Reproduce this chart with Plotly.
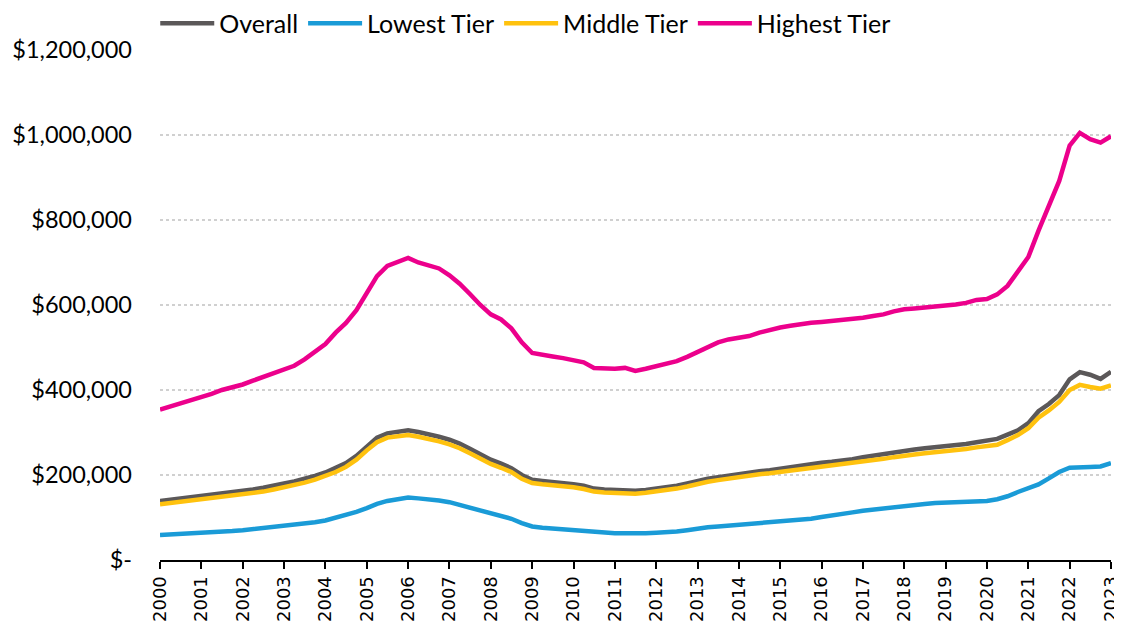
import plotly.graph_objects as go

# quarterly observations, 2000 Q1 .. 2023 Q1 (values in $ thousands)
dates = [f"{y}-{m:02d}-01" for y in range(2000, 2023) for m in (1, 4, 7, 10)] + ["2023-01-01"]

overall = [
    139, 142, 145, 148, 151, 154, 156, 158, 162, 166, 170, 174,
    180, 185, 191, 198, 206, 216, 228, 245, 268, 288, 298, 302,
    305, 301, 296, 290, 283, 274, 262, 248, 236, 227, 216, 200,
    189, 186, 184, 181, 178, 175, 168, 166, 165, 165, 163, 165,
    168, 171, 175, 180, 186, 191, 195, 199, 203, 206, 209, 211,
    215, 218, 222, 226, 229, 231, 233, 237, 242, 246, 249, 253,
    257, 260, 263, 265, 267, 270, 273, 277, 280, 285, 295, 305,
    322, 350, 367, 388, 425, 442, 436, 426, 443,
]
lowest = [
    59, 60, 61, 62, 63, 64.5, 66, 68, 70, 72.5, 75, 77.5,
    80, 82, 85, 89, 93, 99, 105, 113, 122, 132, 139, 144,
    147, 145, 143, 140, 136, 130, 124, 117, 110, 104, 97, 87,
    79, 76, 74, 72, 70, 68, 65, 64, 63, 63, 62, 63,
    64, 65, 67, 70, 74, 77, 79, 81, 83, 85, 86, 87,
    89, 91, 94, 97, 101, 104, 108, 112, 116, 119, 122, 125,
    128, 130, 132, 134, 135, 136, 137, 138, 139, 143, 150, 160,
    168, 178, 192, 207, 217, 219, 219, 220, 228,
]
middle = [
    131, 134, 137, 140, 143, 145, 148, 150, 153, 157, 161, 166,
    171, 176, 182, 189, 197, 207, 219, 236, 258, 277, 288, 292,
    294, 290, 285, 279, 272, 263, 251, 237, 226, 217, 207, 191,
    181, 178, 176, 174, 171, 167, 161, 159, 158, 158, 156, 158,
    161, 164, 168, 173, 179, 184, 188, 192, 196, 199, 202, 204,
    207, 210, 213, 217, 220, 222, 224, 227, 231, 235, 238, 242,
    246, 248, 251, 253, 255, 258, 261, 265, 267, 271, 282, 294,
    310, 335, 352, 372, 400, 412, 407, 403, 411,
]
highest = [
    354, 361, 368, 376, 383, 391, 400, 406, 413, 422, 431, 441,
    450, 457, 472, 490, 508, 535, 558, 588, 630, 668, 692, 702,
    711, 700, 692, 686, 670, 650, 626, 600, 578, 566, 545, 512,
    487, 482, 479, 475, 471, 465, 452, 451, 450, 452, 445, 450,
    456, 462, 468, 478, 490, 502, 512, 519, 524, 527, 535, 542,
    547, 551, 555, 558, 560, 562, 564, 567, 570, 574, 578, 585,
    590, 592, 594, 597, 598, 601, 605, 612, 614, 625, 645, 680,
    713, 775, 831, 892, 975, 1005, 990, 982, 997,
]

series = [
    ("Overall", overall, "#5b5859"),
    ("Lowest Tier", lowest, "#1a9bd7"),
    ("Middle Tier", middle, "#ffc20e"),
    ("Highest Tier", highest, "#ec008c"),
]

y_ticks = [0, 200000, 400000, 600000, 800000, 1000000, 1200000]
y_labels = ["$-", "$200,000", "$400,000", "$600,000", "$800,000", "$1,000,000", "$1,200,000"]
x_ticks = [f"{y}-01-01" for y in range(2000, 2024)]
x_labels = [str(y) for y in range(2000, 2024)]

fig = go.Figure()
for name, vals, colour in series:
    fig.add_trace(go.Scatter(
        x=dates,
        y=[v * 1000 for v in vals],
        mode="lines",
        name=name,
        line=dict(color=colour, width=4.5),
    ))

# page body has an 8px margin, so the figure is a bit smaller than the window
fig.update_layout(
    width=1114,
    height=622,
    margin=dict(l=152, r=11, t=42, b=70, autoexpand=False),
    paper_bgcolor="white",
    plot_bgcolor="white",
    font=dict(family="Lato", color="black"),
    legend=dict(
        orientation="h",
        x=-0.005, xanchor="left",
        y=1.052, yanchor="middle",
        font=dict(size=25),
        itemwidth=54,
        traceorder="normal",
    ),
    showlegend=True,
)

fig.update_xaxes(
    type="date",
    # a few hours past the last point so the 2023 tick is kept
    range=[dates[0], "2023-01-01 08:00"],
    tickvals=x_ticks,
    ticktext=x_labels,
    tickangle=-90,
    ticklabeloverflow="allow",
    ticks="outside",
    ticklen=7,
    tickwidth=2,
    tickcolor="black",
    showline=True,
    linecolor="black",
    linewidth=2,
    showgrid=False,
    tickfont=dict(family="DejaVu Sans", size=18),
)

fig.update_yaxes(
    range=[0, 1200000],
    tickvals=y_ticks,
    ticktext=y_labels,
    showgrid=True,
    gridcolor="#d0d0d0",
    gridwidth=2,
    griddash="dot",
    zeroline=False,
    ticks="",
    ticklabelstandoff=27,
    tickfont=dict(size=23.5),
)

fig.write_html("out.html")
